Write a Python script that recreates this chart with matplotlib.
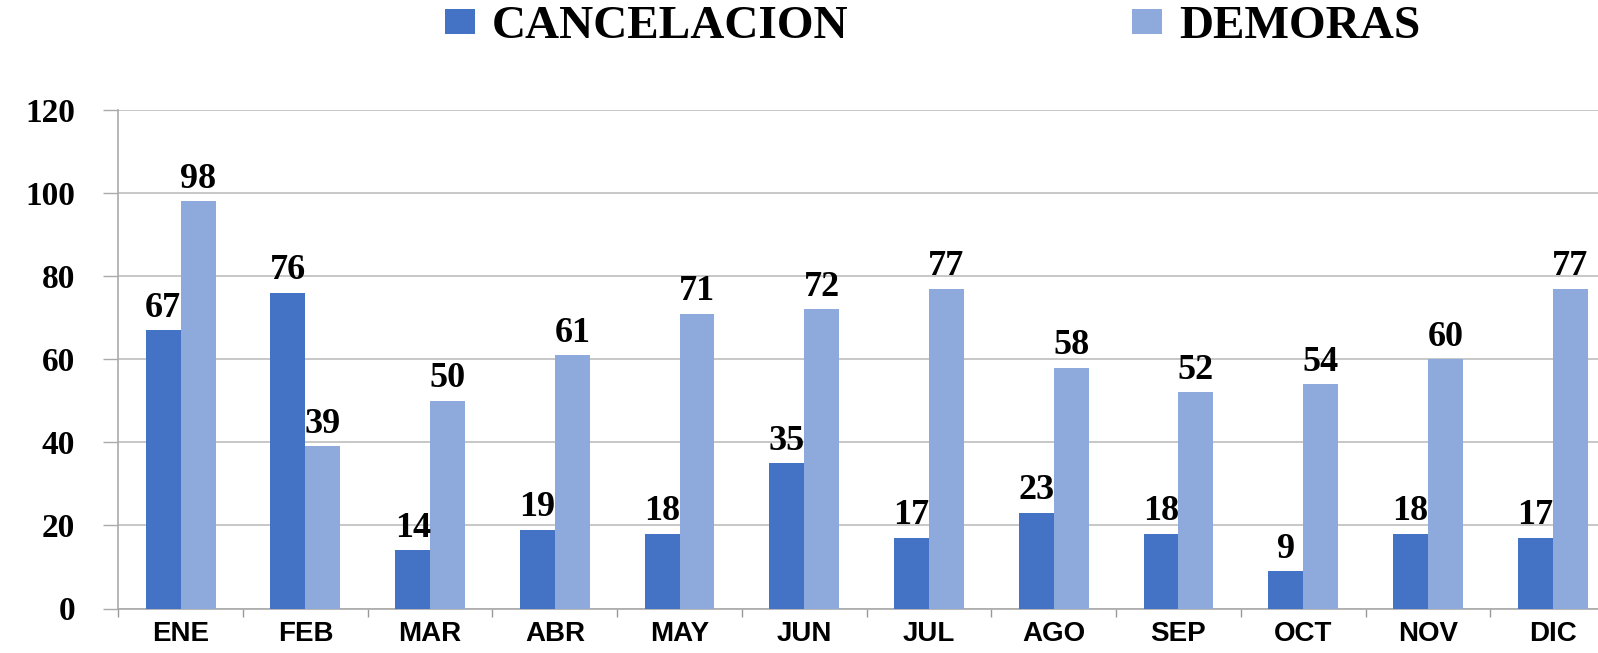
import matplotlib
matplotlib.use("Agg")
import matplotlib.pyplot as plt
import numpy as np

months = ["ENE", "FEB", "MAR", "ABR", "MAY", "JUN", "JUL", "AGO", "SEP", "OCT", "NOV", "DIC"]
cancelacion = [67, 76, 14, 19, 18, 35, 17, 23, 18, 9, 18, 17]
demoras = [98, 39, 50, 61, 71, 72, 77, 58, 52, 54, 60, 77]
series_names = ["CANCELACION", "DEMORAS"]
yticks = [0, 20, 40, 60, 80, 100, 120]

c_dark = "#4472C4"
c_light = "#8EA9DB"
serif = "Liberation Serif"
sans = "Liberation Sans"

W, H = 1598, 653
fig = plt.figure(figsize=(W / 100, H / 100), dpi=100)
left_px, right_px = 118.3, 1615.0
top_px, bot_px = 110.0, 608.5
ax = fig.add_axes([left_px / W, 1 - bot_px / H, (right_px - left_px) / W, (bot_px - top_px) / H])

x = np.arange(len(months))
bw = 0.28
b1 = ax.bar(x - bw / 2, cancelacion, bw, color=c_dark, label=series_names[0], zorder=3)
b2 = ax.bar(x + bw / 2, demoras, bw, color=c_light, label=series_names[1], zorder=3)

for bars, vals in ((b1, cancelacion), (b2, demoras)):
    for r, v in zip(bars, vals):
        ax.annotate(str(v), (r.get_x() + r.get_width() / 2, v), xytext=(0, 4),
                    textcoords="offset points", ha="center", va="bottom",
                    fontsize=26, fontweight="bold", family=serif, color="black", zorder=4)

ax.set_xlim(-0.5, len(months) - 0.5)
ax.set_ylim(0, 120)
ax.set_yticks(yticks)
ax.set_yticklabels([str(t) for t in yticks], fontsize=24, fontweight="bold", family=serif)
ax.set_xticks(x)
ax.set_xticklabels(months, fontsize=20, fontweight="bold", family=sans)
ax.set_xticks(np.arange(len(months) + 1) - 0.5, minor=True)

ax.tick_params(axis="x", which="major", length=0, pad=9)
ax.tick_params(axis="x", which="minor", length=6, color="#999999", width=1)
ax.tick_params(axis="y", which="major", length=11, color="#aaaaaa", width=1, pad=20)

ax.yaxis.grid(True, color="#bdbdbd", linewidth=1.2, zorder=0)
ax.set_axisbelow(True)
for s in ("top", "right"):
    ax.spines[s].set_visible(False)
ax.spines["left"].set_color("#aaaaaa")
ax.spines["bottom"].set_color("#aaaaaa")
ax.spines["left"].set_linewidth(1.2)
ax.spines["bottom"].set_linewidth(1.2)

fig.legend(handles=[b1, b2], labels=series_names, loc="center", bbox_to_anchor=(0.5835, 0.958),
           ncol=2, frameon=False, prop={"family": serif, "weight": "bold", "size": 34},
           handlelength=0.65, handleheight=0.42, handletextpad=0.35, columnspacing=6.0)

fig.savefig("out.png", dpi=100)
